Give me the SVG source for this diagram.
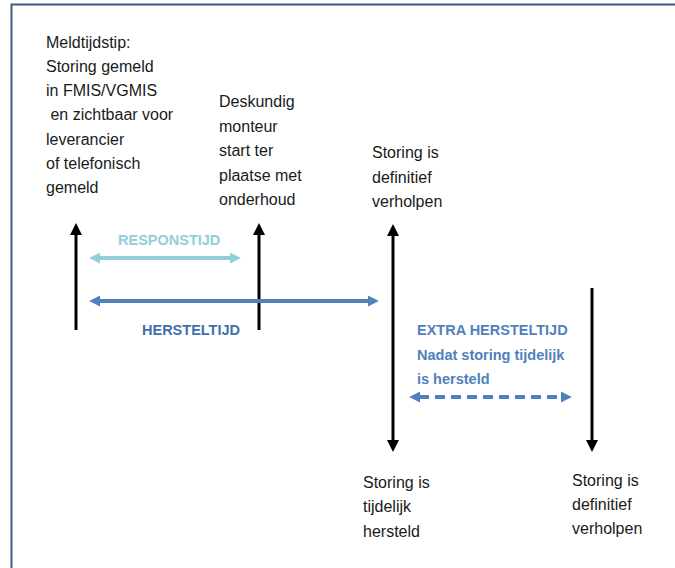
<svg xmlns="http://www.w3.org/2000/svg" width="675" height="568" viewBox="0 0 675 568">
<style>
.t{font-family:"Liberation Sans",Arial,sans-serif;font-size:16px;fill:#1a1a1a}
.b{font-family:"Liberation Sans",Arial,sans-serif;font-size:14.5px;font-weight:bold}
.v{stroke:#000;stroke-width:3;fill:none}
</style>
<defs>
<marker id="ah" viewBox="0 0 12 12" refX="1" refY="6" markerWidth="12" markerHeight="12" markerUnits="userSpaceOnUse" orient="auto-start-reverse"><path d="M0,0 L12,6 L0,12 Z" fill="#000"/></marker>
<marker id="al" viewBox="0 0 10 10" refX="1" refY="5" markerWidth="11" markerHeight="11" markerUnits="userSpaceOnUse" orient="auto-start-reverse"><path d="M0,0 L10,5 L0,10 Z" fill="#92CDDC"/></marker>
<marker id="ab" viewBox="0 0 10 10" refX="1" refY="5" markerWidth="11" markerHeight="11" markerUnits="userSpaceOnUse" orient="auto-start-reverse"><path d="M0,0 L10,5 L0,10 Z" fill="#4F81BD"/></marker>
</defs>
<rect width="675" height="568" fill="#fff"/>
<rect x="11.5" y="4.5" width="680" height="580" fill="none" stroke="#3c5a80" stroke-width="2"/>

<g id="node-meld">
<text class="t" x="46" y="48">Meldtijdstip:</text>
<text class="t" x="46" y="72">Storing gemeld</text>
<text class="t" x="46" y="96">in FMIS/VGMIS</text>
<text class="t" x="46" y="120" xml:space="preserve"> en zichtbaar voor</text>
<text class="t" x="46" y="145">leverancier</text>
<text class="t" x="46" y="169">of telefonisch</text>
<text class="t" x="46" y="193">gemeld</text>
</g>
<g id="node-monteur">
<text class="t" x="219" y="107">Deskundig</text>
<text class="t" x="219" y="131.5">monteur</text>
<text class="t" x="219" y="156">start ter</text>
<text class="t" x="219" y="180.5">plaatse met</text>
<text class="t" x="219" y="205">onderhoud</text>
</g>
<g id="node-def1">
<text class="t" x="372" y="158">Storing is</text>
<text class="t" x="372" y="183">definitief</text>
<text class="t" x="372" y="207">verholpen</text>
</g>
<g id="node-tijd">
<text class="t" x="363" y="488">Storing is</text>
<text class="t" x="363" y="512">tijdelijk</text>
<text class="t" x="363" y="537">hersteld</text>
</g>
<g id="node-def2">
<text class="t" x="572" y="486">Storing is</text>
<text class="t" x="572" y="510">definitief</text>
<text class="t" x="572" y="534">verholpen</text>
</g>
<g id="label-respons"><text class="b" x="118" y="245" fill="#92CDDC">RESPONSTIJD</text></g>
<g id="label-herstel"><text class="b" x="142" y="335" fill="#3F6FAE">HERSTELTIJD</text></g>
<g id="label-extra">
<text class="b" x="417" y="335" fill="#4F81BD">EXTRA HERSTELTIJD</text>
<text class="b" x="417" y="360" fill="#4F81BD">Nadat storing tijdelijk</text>
<text class="b" x="417" y="384" fill="#4F81BD">is hersteld</text>
</g>

<g id="connectors">
<line class="v" x1="76" y1="330" x2="76" y2="234" marker-end="url(#ah)"/>
<line class="v" x1="259" y1="330" x2="259" y2="234" marker-end="url(#ah)"/>
<line class="v" x1="393" y1="235" x2="393" y2="441" marker-start="url(#ah)" marker-end="url(#ah)"/>
<line class="v" x1="592" y1="288" x2="592" y2="441" marker-end="url(#ah)"/>
<line x1="99" y1="258" x2="231" y2="258" stroke="#92CDDC" stroke-width="4" marker-start="url(#al)" marker-end="url(#al)"/>
<line x1="99" y1="301" x2="369" y2="301" stroke="#4F81BD" stroke-width="4" marker-start="url(#ab)" marker-end="url(#ab)"/>
<line x1="419" y1="397" x2="562" y2="397" stroke="#4F81BD" stroke-width="4" stroke-dasharray="10,6" marker-start="url(#ab)" marker-end="url(#ab)"/>
</g>
</svg>
